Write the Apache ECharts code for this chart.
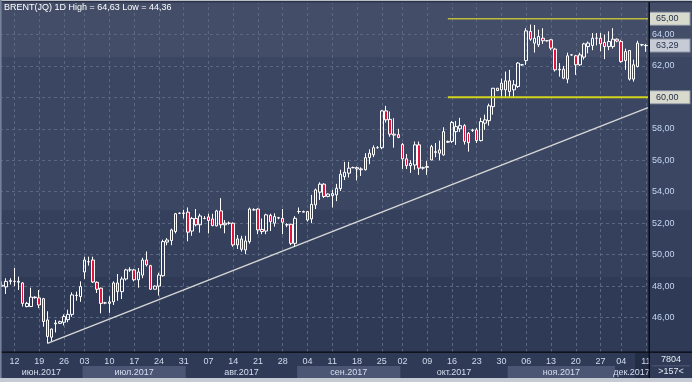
<!DOCTYPE html>
<html>
<head>
<meta charset="utf-8">
<script src="https://cdn.jsdelivr.net/npm/echarts@6.0.0/dist/echarts.min.js"></script>
<style>
html,body{margin:0;padding:0;background:#c8ccd4;overflow:hidden;}
#chart{width:692px;height:382px;}
</style>
</head>
<body>
<div id="chart"></div>
<script>
const dates = [
'2017-06-08','2017-06-09','2017-06-11','2017-06-12','2017-06-13','2017-06-14','2017-06-15','2017-06-16','2017-06-18','2017-06-19',
'2017-06-20','2017-06-21','2017-06-22','2017-06-23','2017-06-25','2017-06-26','2017-06-27','2017-06-28','2017-06-29','2017-06-30',
'2017-07-03','2017-07-04','2017-07-05','2017-07-06','2017-07-07','2017-07-09','2017-07-10','2017-07-11','2017-07-12','2017-07-13',
'2017-07-14','2017-07-16','2017-07-17','2017-07-18','2017-07-19','2017-07-20','2017-07-21','2017-07-23','2017-07-24','2017-07-25',
'2017-07-26','2017-07-27','2017-07-28','2017-07-30','2017-07-31',
'2017-08-01','2017-08-02','2017-08-03','2017-08-04','2017-08-06','2017-08-07','2017-08-08','2017-08-09','2017-08-10','2017-08-11',
'2017-08-13','2017-08-14','2017-08-15','2017-08-16','2017-08-17','2017-08-18','2017-08-20','2017-08-21','2017-08-22','2017-08-23',
'2017-08-24','2017-08-25','2017-08-27','2017-08-28','2017-08-29','2017-08-30','2017-08-31',
'2017-09-01','2017-09-03','2017-09-04','2017-09-05','2017-09-06','2017-09-07','2017-09-08','2017-09-10','2017-09-11','2017-09-12',
'2017-09-13','2017-09-14','2017-09-15','2017-09-17','2017-09-18','2017-09-19','2017-09-20','2017-09-21','2017-09-22','2017-09-24',
'2017-09-25','2017-09-26','2017-09-27','2017-09-28','2017-09-29',
'2017-10-02','2017-10-03','2017-10-04','2017-10-05','2017-10-06','2017-10-08','2017-10-09','2017-10-10','2017-10-11','2017-10-12',
'2017-10-13','2017-10-15','2017-10-16','2017-10-17','2017-10-18','2017-10-19','2017-10-20','2017-10-22','2017-10-23','2017-10-24',
'2017-10-25','2017-10-26','2017-10-27','2017-10-29','2017-10-30','2017-10-31',
'2017-11-01','2017-11-02','2017-11-03','2017-11-05','2017-11-06','2017-11-07','2017-11-08','2017-11-09','2017-11-10','2017-11-12',
'2017-11-13','2017-11-14','2017-11-15','2017-11-16','2017-11-17','2017-11-19','2017-11-20','2017-11-21','2017-11-22','2017-11-23',
'2017-11-24','2017-11-26','2017-11-27','2017-11-28','2017-11-29','2017-11-30',
'2017-12-01','2017-12-04','2017-12-05','2017-12-06','2017-12-07','2017-12-08','2017-12-10','2017-12-11'
];
// [open, close, low, high]
const ohlc = [
[48.00,48.05,47.95,48.30],[47.95,48.30,47.50,48.50],[48.30,48.35,48.10,48.50],[48.30,48.30,48.00,49.15],[48.30,48.25,47.75,48.60],
[48.20,46.90,46.70,48.25],[46.70,46.90,46.65,47.00],[46.70,47.30,46.70,47.90],[47.30,47.27,47.20,47.35],[47.25,46.80,46.60,47.75],
[47.20,45.75,45.42,47.25],[45.85,44.80,44.36,46.40],[44.75,45.27,44.50,45.30],[45.60,45.65,45.05,45.85],[45.63,45.74,45.60,45.80],
[45.70,46.06,45.50,46.20],[45.87,46.20,45.70,46.50],[46.20,47.44,46.05,47.60],[47.40,47.42,47.07,47.65],[47.33,47.97,47.00,48.30],
[48.90,49.66,48.45,49.87],[49.55,49.55,49.30,49.87],[49.66,48.26,48.20,49.87],[48.24,47.80,47.56,48.30],[47.87,46.90,46.27,47.90],
[46.93,46.93,46.85,47.00],[46.90,47.00,46.30,47.35],[47.00,48.20,46.80,48.30],[48.20,47.65,47.07,48.77],[47.65,48.45,47.18,48.60],
[48.45,49.03,48.35,49.10],[49.03,49.03,48.90,49.20],[49.03,48.40,48.30,49.10],[48.40,48.90,47.90,49.15],[48.70,49.66,48.50,49.80],
[49.66,49.35,49.25,50.20],[49.30,47.80,47.78,49.35],[47.80,48.00,47.80,48.05],[48.00,48.70,47.40,48.85],[48.66,50.83,48.60,50.95],
[50.80,50.93,50.60,51.05],[50.90,51.57,50.60,51.65],[51.47,52.60,51.35,52.65],[52.63,52.63,52.60,52.68],[52.62,52.65,52.30,52.85],
[52.70,51.43,50.85,53.00],[51.50,52.30,51.20,52.40],[52.30,51.90,51.80,52.90],[51.90,52.46,51.40,52.60],[52.30,52.30,52.25,52.45],
[52.40,52.17,51.35,52.60],[52.27,51.85,51.80,52.60],[51.83,52.78,51.80,52.85],[52.78,51.90,51.68,53.59],[51.90,52.00,51.36,52.20],
[52.00,52.00,51.90,52.10],[52.00,50.62,50.50,52.05],[51.00,50.62,50.36,51.25],[51.00,50.34,50.20,51.20],[50.30,50.87,50.03,51.20],
[50.83,52.90,50.70,52.99],[52.85,52.85,52.80,52.95],[52.90,51.57,51.30,52.95],[51.60,51.47,51.30,52.30],[51.50,52.53,51.30,52.60],
[52.50,52.10,51.50,52.60],[52.00,52.42,51.78,52.63],[52.35,52.33,52.25,52.40],[52.30,52.06,51.30,52.90],[51.90,51.90,51.75,52.00],
[51.93,50.72,50.60,51.95],[50.72,52.31,50.50,52.45],
[52.74,52.74,52.60,53.00],[52.70,52.74,52.70,52.80],[52.74,52.20,52.10,52.78],[52.27,53.20,52.00,53.80],[53.16,54.12,52.90,54.20],
[53.97,54.48,53.48,54.60],[54.48,53.70,53.60,54.55],[53.70,53.85,53.65,53.90],[53.75,53.88,53.00,54.12],[53.80,54.22,53.40,54.50],
[54.20,55.11,54.05,55.40],[54.96,55.24,54.75,55.90],[55.18,55.50,54.90,55.90],[55.53,55.53,55.50,55.60],[55.45,55.53,54.72,55.60],
[55.45,55.40,55.00,55.55],[55.40,56.17,55.35,56.45],[56.17,56.45,55.75,56.70],[56.35,56.80,56.20,56.95],[56.80,56.80,56.75,56.90],
[56.80,59.14,56.70,59.20],[59.14,58.57,58.40,59.46],[58.60,57.66,57.50,59.10],[57.66,57.60,56.80,58.68],[57.63,57.45,57.40,58.00],
[57.00,56.09,55.45,57.10],[56.09,55.66,55.45,56.40],[55.66,55.80,55.20,56.00],[55.70,56.98,55.40,57.19],[56.98,55.50,55.07,57.19],
[55.50,55.53,55.40,55.60],[55.55,55.60,55.07,55.96],[56.02,56.87,56.00,56.98],[56.50,56.55,56.20,57.10],[56.66,56.45,56.00,57.25],
[56.34,57.82,56.30,58.10],[57.20,57.15,57.10,57.25],[57.20,58.40,57.10,58.50],[57.82,58.14,56.98,58.50],[58.00,58.20,57.80,58.70],
[58.20,57.20,57.00,58.30],[57.72,57.12,56.55,57.80],[57.90,57.93,57.80,58.00],[57.93,57.25,57.10,58.05],[57.25,58.46,57.20,58.70],
[58.36,58.57,57.93,58.90],[58.52,59.46,58.20,59.60],[59.41,60.58,58.90,60.60],[60.43,60.58,60.40,60.60],[60.48,60.90,60.00,61.20],
[60.48,61.05,59.97,61.64],
[61.05,60.37,59.97,61.75],[60.48,60.80,59.97,61.10],[60.69,62.18,60.60,62.25],[62.07,62.07,62.00,62.10],[62.34,64.23,62.07,64.40],
[64.19,63.70,63.60,64.63],[63.45,63.76,62.85,64.60],[63.34,63.87,63.20,64.30],[63.76,63.60,63.40,64.40],[63.60,63.60,63.55,63.65],
[63.66,63.13,63.00,63.70],[63.07,61.75,61.64,63.15],[61.75,61.79,61.32,62.18],[61.79,61.22,61.16,62.00],[61.16,62.64,60.90,62.84],
[62.70,62.70,62.65,62.75],[62.64,62.07,61.43,62.70],[62.07,62.70,62.00,62.84],[62.56,63.40,62.40,63.47],[63.23,63.45,62.80,63.55],
[63.30,63.76,63.00,64.09],[63.76,63.76,63.30,64.09],[63.76,63.40,62.93,64.10],[63.49,63.23,62.43,64.00],[63.23,63.55,63.00,64.20],
[63.23,63.70,63.10,64.40],
[63.70,63.58,63.50,63.75],[63.55,62.28,62.20,63.66],[62.91,62.34,61.75,63.10],[62.98,61.16,61.07,63.00],[61.16,62.07,61.00,62.40],
[61.96,63.45,61.90,63.60],[63.34,63.35,63.25,63.40],[63.30,63.29,62.90,63.40]
];
const priceTicks = [46, 48, 50, 52, 54, 56, 58, 60, 62, 64];
const levelLines = [65, 60];
const levelFrom = '2017-10-15';
const trendFrom = '2017-06-21';
const trendValues = [44.36, 59.35];
const lastPrice = 63.29;
const monthLabels = {'06':'июн.2017','07':'июл.2017','08':'авг.2017','09':'сен.2017','10':'окт.2017','11':'ноя.2017','12':'дек.2017'};
const titleText = 'BRENT(JQ) 1D High = 64,63 Low = 44,36';
const cornerTexts = ['7804', '>157<'];

const FONT = 'Liberation Sans, Arial, sans-serif';
const fmt = v => v.toFixed(2).replace('.', ',');
const isMonday = d => new Date(d + 'T00:00:00Z').getUTCDay() === 1;
const N = dates.length;
const mondayIdx = dates.map((d, i) => isMonday(d) ? i : -1).filter(i => i >= 0);

const monthSpans = [];
dates.forEach((d, i) => {
  const m = d.slice(5, 7);
  const last = monthSpans[monthSpans.length - 1];
  if (!last || last.m !== m) monthSpans.push({m: m, s: i, e: i + 1});
  else last.e = i + 1;
});
const monthData = monthSpans.map((o, k) => ({value: [o.s, o.e, k % 2], name: monthLabels[o.m]}));

const tFrom = dates.indexOf(trendFrom) + 0.5;
const lFrom = dates.indexOf(levelFrom) + 0.5;

const bg = {
  type: 'linear', x: 0, y: 0, x2: 0, y2: 1,
  colorStops: [
    {offset: 0, color: '#434d67'}, {offset: 0.149, color: '#434d67'},
    {offset: 0.149, color: '#3b4662'}, {offset: 0.55, color: '#3b4662'},
    {offset: 0.55, color: '#35405d'}, {offset: 0.725, color: '#35405d'},
    {offset: 0.725, color: '#2f3a56'}, {offset: 1, color: '#2f3a56'}
  ]
};

const tagLabel = (text, bgc) => ({
  show: true, formatter: text, color: '#25304a', fontSize: 9, fontFamily: FONT,
  backgroundColor: bgc, borderColor: '#8f96a6', borderWidth: 1, opacity: 1,
  padding: [2, 11, 1, 6], distance: 2
});

const chart = echarts.init(document.getElementById('chart'), null, {renderer: 'canvas'});
chart.setOption({
  animation: false,
  title: {text: titleText, left: 4, top: 3, padding: 0,
    textStyle: {color: '#ffffff', fontSize: 9, fontWeight: 'normal', fontFamily: FONT}},
  grid: [
    {left: 0, top: 3, width: 648, height: 349},
    {left: 0, top: 366, width: 648, height: 12}
  ],
  xAxis: [
    {type: 'category', gridIndex: 0, data: dates, boundaryGap: true,
      axisLine: {show: false}, axisTick: {show: false}, splitLine: {show: false},
      axisLabel: {interval: (i, v) => isMonday(v), formatter: v => v.slice(8),
        color: '#d0dbee', fontSize: 9, fontFamily: FONT, margin: 5}},
    {type: 'value', gridIndex: 0, min: 0, max: N, show: false},
    {type: 'value', gridIndex: 1, min: 0, max: N, show: false}
  ],
  yAxis: [
    {type: 'value', gridIndex: 0, position: 'right', min: 43.81, max: 66.0, splitNumber: 11,
      axisLine: {show: false}, axisTick: {show: false}, splitLine: {show: false},
      axisLabel: {color: '#c5d6f2', fontSize: 9, fontFamily: FONT, margin: 4,
        formatter: v => { const r = Math.round(v * 100) / 100; return (priceTicks.includes(r) && r !== 60) ? fmt(r) : ''; }}},
    {type: 'value', gridIndex: 1, min: 0, max: 1, show: false}
  ],
  series: [
    {
      name: 'trend', type: 'line', xAxisIndex: 1, yAxisIndex: 0, z: 1,
      data: [[tFrom, trendValues[0]], [N, trendValues[1]]],
      symbol: 'none', silent: true, clip: false,
      lineStyle: {color: '#d6d6d6', width: 1.5},
      markLine: {
        silent: true, symbol: ['none', 'none'], animation: false, z: 0,
        label: {show: false},
        lineStyle: {color: '#5b6781', type: [3, 3], width: 1},
        emphasis: {disabled: true},
        data: mondayIdx.map(i => ({xAxis: i + 0.5})).concat(priceTicks.map(v => ({yAxis: v})))
      }
    },
    {
      name: 'level65', type: 'line', xAxisIndex: 1, yAxisIndex: 0, z: 3,
      data: [[lFrom, levelLines[0]], [N, levelLines[0]]],
      symbol: 'none', silent: true, clip: false,
      lineStyle: {color: '#bcbc3c', width: 1.5},
      endLabel: tagLabel(fmt(levelLines[0]), '#d9dace')
    },
    {
      name: 'level60', type: 'line', xAxisIndex: 1, yAxisIndex: 0, z: 3,
      data: [[lFrom, levelLines[1]], [N, levelLines[1]]],
      symbol: 'none', silent: true, clip: false,
      lineStyle: {color: '#d4d41c', width: 2},
      endLabel: tagLabel(fmt(levelLines[1]), '#d9dace')
    },
    {
      name: 'BRENT', type: 'candlestick', xAxisIndex: 0, yAxisIndex: 0, z: 2,
      data: ohlc, barWidth: 3, silent: true,
      itemStyle: {color: 'rgba(0,0,0,0)', color0: '#e0143c', borderColor: '#ffffff',
        borderColor0: '#ffffff', borderColorDoji: '#ffffff', borderWidth: 1}
    },
    {
      name: 'last', type: 'line', xAxisIndex: 1, yAxisIndex: 0, z: 3,
      data: [[N - 1, lastPrice], [N, lastPrice]],
      symbol: 'none', silent: true, clip: false,
      lineStyle: {color: 'rgba(0,0,0,0)', width: 0},
      endLabel: tagLabel(fmt(lastPrice), '#c7cbd6')
    },
    {
      name: 'months', type: 'custom', xAxisIndex: 2, yAxisIndex: 1, silent: true,
      data: monthData,
      renderItem: (params, api) => {
        const x0 = api.coord([api.value(0), 0])[0];
        const x1 = api.coord([api.value(1), 0])[0];
        const cs = params.coordSys;
        const light = api.value(2) === 1;
        return {type: 'group', children: [
          {type: 'rect', shape: {x: x0, y: cs.y, width: x1 - x0, height: cs.height},
            style: {fill: light ? '#4a5674' : 'rgba(0,0,0,0)'}},
          {type: 'text', x: (x0 + x1) / 2, y: cs.y + cs.height / 2 + 0.5,
            style: {text: monthData[params.dataIndex].name, fill: '#d6dff0', font: '9px ' + FONT,
              align: 'center', verticalAlign: 'middle'}}
        ]};
      }
    }
  ],
  graphic: [
    {type: 'rect', z: -100, shape: {x: 0, y: 0, width: 692, height: 382}, style: {fill: bg}},
    {type: 'rect', z: -99, shape: {x: 635, y: 353, width: 13, height: 25}, style: {fill: 'rgba(22,30,50,0.45)'}},
    {type: 'rect', z: 100, shape: {x: 0, y: 351.5, width: 692, height: 1.2}, style: {fill: '#05070c'}},
    {type: 'rect', z: 100, shape: {x: 648.5, y: 2, width: 1.4, height: 376}, style: {fill: '#05070c'}},
    {type: 'rect', z: 100, shape: {x: 0, y: 0, width: 692, height: 1.2}, style: {fill: '#b9bec8'}},
    {type: 'rect', z: 100, shape: {x: 0, y: 1.2, width: 692, height: 1}, style: {fill: '#1b2233'}},
    {type: 'rect', z: 100, shape: {x: 0, y: 0, width: 1.6, height: 378}, style: {fill: '#76819a'}},
    {type: 'rect', z: 100, shape: {x: 0, y: 378, width: 692, height: 4}, style: {fill: '#c6cad2'}},
    {type: 'rect', z: 100, shape: {x: 652, y: 365.5, width: 38, height: 0.8}, style: {fill: '#5a6580'}},
    {type: 'text', z: 100, x: 671, y: 360, style: {text: cornerTexts[0], fill: '#e4e9f2', font: '9px ' + FONT, align: 'center', verticalAlign: 'middle'}},
    {type: 'text', z: 100, x: 671, y: 372, style: {text: cornerTexts[1], fill: '#e4e9f2', font: '9px ' + FONT, align: 'center', verticalAlign: 'middle'}}
  ]
});
</script>
</body>
</html>
